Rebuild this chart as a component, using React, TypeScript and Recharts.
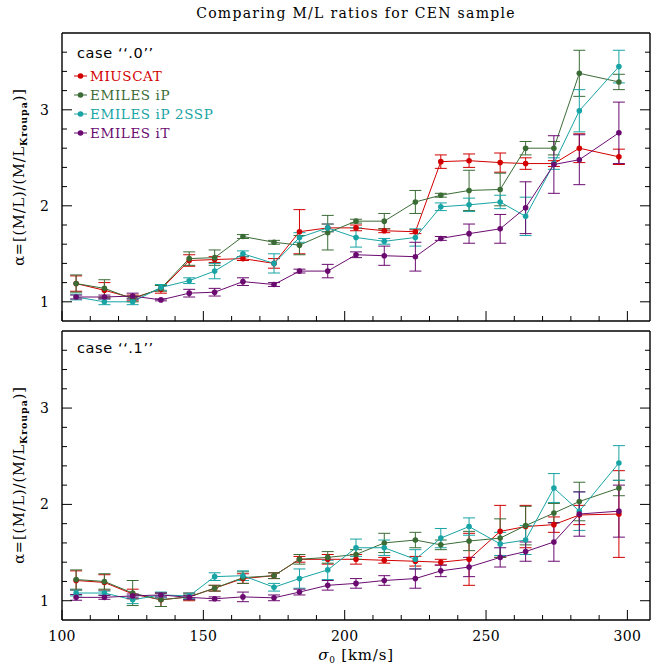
import React from 'react';
import { LineChart, Line, XAxis, YAxis, ErrorBar, Legend } from 'recharts';

// ---------- data ----------
const sigma = [105, 115, 125, 135, 145, 154, 164, 175, 184, 194, 204, 214, 225, 234, 244, 255, 264, 274, 283, 297];

const seriesNames = ['MIUSCAT', 'EMILES iP', 'EMILES iP 2SSP', 'EMILES iT'];
const seriesColors = ['#d20000', '#3b6c36', '#18a4a4', '#6b0b70'];

// case ".0"
const miuscat0 = [1.19, 1.12, 1.04, 1.13, 1.43, 1.44, 1.45, 1.40, 1.73, 1.77, 1.77, 1.74, 1.73, 2.46, 2.47, 2.45, 2.44, 2.44, 2.60, 2.51];
const iP0 = [1.19, 1.14, 1.03, 1.14, 1.45, 1.46, 1.68, 1.62, 1.59, 1.72, 1.84, 1.84, 2.04, 2.11, 2.16, 2.17, 2.60, 2.60, 3.38, 3.29];
const iP2ssp0 = [1.05, 1.00, 1.00, 1.15, 1.22, 1.32, 1.50, 1.40, 1.67, 1.77, 1.67, 1.63, 1.67, 1.99, 2.01, 2.04, 1.89, 2.44, 2.99, 3.45];
const iT0 = [1.05, 1.05, 1.06, 1.02, 1.09, 1.10, 1.21, 1.18, 1.32, 1.32, 1.49, 1.48, 1.47, 1.66, 1.71, 1.76, 1.98, 2.43, 2.48, 2.76];

const miuscatErr0 = [0.08, 0.08, 0.03, 0.04, 0.06, 0.03, 0.02, 0.05, 0.23, 0.04, 0.03, 0.02, 0.02, 0.07, 0.07, 0.10, 0.06, 0.03, 0.15, 0.08];
const iPErr0 = [0.09, 0.09, 0.03, 0.03, 0.07, 0.08, 0.02, 0.02, 0.10, 0.18, 0.02, 0.08, 0.12, 0.02, 0.21, 0.17, 0.07, 0.07, 0.24, 0.08];
const iP2sspErr0 = [0.03, 0.03, 0.03, 0.03, 0.03, 0.08, 0.03, 0.10, 0.05, 0.04, 0.10, 0.03, 0.09, 0.04, 0.07, 0.07, 0.20, 0.06, 0.22, 0.17];
const iTErr0 = [0.02, 0.02, 0.03, 0.01, 0.04, 0.04, 0.04, 0.02, 0.02, 0.07, 0.03, 0.10, 0.15, 0.02, 0.10, 0.15, 0.27, 0.30, 0.26, 0.32];

// case ".1"
const miuscat1 = [1.21, 1.19, 1.07, 1.01, 1.04, 1.13, 1.23, 1.26, 1.43, 1.43, 1.43, 1.42, 1.41, 1.40, 1.43, 1.72, 1.77, 1.79, 1.89, 1.90];
const iP1 = [1.22, 1.20, 1.08, 1.01, 1.04, 1.13, 1.24, 1.26, 1.43, 1.45, 1.48, 1.60, 1.63, 1.58, 1.62, 1.65, 1.78, 1.91, 2.03, 2.17];
const iP2ssp1 = [1.08, 1.08, 1.01, 1.06, 1.05, 1.25, 1.26, 1.14, 1.23, 1.32, 1.55, 1.55, 1.43, 1.65, 1.77, 1.59, 1.63, 2.17, 1.93, 2.43];
const iT1 = [1.035, 1.035, 1.05, 1.06, 1.035, 1.02, 1.04, 1.03, 1.09, 1.16, 1.18, 1.21, 1.23, 1.31, 1.35, 1.45, 1.51, 1.61, 1.90, 1.93];

const miuscatErr1 = [0.10, 0.08, 0.05, 0.07, 0.04, 0.03, 0.05, 0.03, 0.03, 0.05, 0.05, 0.03, 0.05, 0.03, 0.27, 0.27, 0.22, 0.08, 0.10, 0.45];
const iPErr1 = [0.10, 0.08, 0.13, 0.07, 0.03, 0.03, 0.06, 0.03, 0.05, 0.06, 0.05, 0.10, 0.08, 0.05, 0.10, 0.20, 0.20, 0.10, 0.20, 0.08];
const iP2sspErr1 = [0.03, 0.02, 0.04, 0.03, 0.03, 0.04, 0.05, 0.04, 0.10, 0.10, 0.09, 0.08, 0.10, 0.10, 0.09, 0.12, 0.15, 0.15, 0.20, 0.18];
const iTErr1 = [0.03, 0.02, 0.02, 0.02, 0.02, 0.02, 0.05, 0.03, 0.03, 0.05, 0.05, 0.05, 0.10, 0.06, 0.10, 0.10, 0.10, 0.20, 0.23, 0.27];

// axis ticks
const xDomain = [100, 308];
const yDomain = [0.8, 3.8];
const xTicks = [100, 110, 120, 130, 140, 150, 160, 170, 180, 190, 200, 210, 220, 230, 240, 250, 260, 270, 280, 290, 300];
const xLabelTicks = [100, 150, 200, 250, 300];
const yTicks = [1, 1.2, 1.4, 1.6, 1.8, 2, 2.2, 2.4, 2.6, 2.8, 3, 3.2, 3.4, 3.6];
const yLabelTicks = [1, 2, 3];

const title = 'Comparing M/L ratios for CEN sample';
const caseLabels = ['case \u2018\u2018.0\u2019\u2019', 'case \u2018\u2018.1\u2019\u2019'];

// ---------- helpers ----------
function buildRows(values: number[][], errs: number[][]) {
  return sigma.map((s, i) => {
    const row: Record<string, number> = { sigma: s };
    values.forEach((v, k) => {
      row['v' + k] = v[i];
      row['e' + k] = errs[k][i];
    });
    return row;
  });
}

const rows0 = buildRows([miuscat0, iP0, iP2ssp0, iT0], [miuscatErr0, iPErr0, iP2sspErr0, iTErr0]);
const rows1 = buildRows([miuscat1, iP1, iP2ssp1, iT1], [miuscatErr1, iPErr1, iP2sspErr1, iTErr1]);

const SERIF = '"DejaVu Serif", serif';
const SANS = '"DejaVu Sans", sans-serif';

const isMajorX = (v: number) => xLabelTicks.some((t) => Math.abs(t - v) < 1e-6);
const isMajorY = (v: number) => yLabelTicks.some((t) => Math.abs(t - v) < 1e-6);

const MAJ = 10;
const MIN = 5;

const makeBottomTick = (showLabel: boolean) => (props: any) => {
  const { x, y, payload } = props;
  const major = isMajorX(payload.value);
  return (
    <g>
      <line x1={x} x2={x} y1={y} y2={y - (major ? MAJ : MIN)} stroke="#000" strokeWidth={1} />
      {showLabel && major ? (
        <text x={x} y={y + 21} textAnchor="middle" fontFamily={SERIF} fontSize={14} letterSpacing={0.3} fill="#000">
          {payload.value}
        </text>
      ) : null}
    </g>
  );
};

const TopTick = (props: any) => {
  const { x, y, payload } = props;
  const major = isMajorX(payload.value);
  return <line x1={x} x2={x} y1={y} y2={y + (major ? MAJ : MIN)} stroke="#000" strokeWidth={1} />;
};

const LeftTick = (props: any) => {
  const { x, y, payload } = props;
  const major = isMajorY(payload.value);
  return (
    <g>
      <line x1={x} x2={x + (major ? MAJ : MIN)} y1={y} y2={y} stroke="#000" strokeWidth={1} />
      {major ? (
        <text x={x - 13} y={y} dy="0.36em" textAnchor="end" fontFamily={SERIF} fontSize={14} fill="#000">
          {payload.value}
        </text>
      ) : null}
    </g>
  );
};

const RightTick = (props: any) => {
  const { x, y, payload } = props;
  const major = isMajorY(payload.value);
  return <line x1={x} x2={x - (major ? MAJ : MIN)} y1={y} y2={y} stroke="#000" strokeWidth={1} />;
};

const LegendContent = () => (
  <svg width={200} height={84}>
    {seriesNames.map((name, i) => {
      const cy = 10 + i * 19;
      const color = seriesColors[i];
      return (
        <g key={name}>
          <line x1={4} x2={17} y1={cy} y2={cy} stroke={color} strokeWidth={1} />
          <circle cx={10.5} cy={cy} r={2.8} fill={color} />
          <text x={20} y={cy} dy="0.36em" fontFamily={SERIF} fontSize={13.5} letterSpacing={0.6} fill={color}>
            {name}
          </text>
        </g>
      );
    })}
  </svg>
);

const axisLine = { stroke: '#000', strokeWidth: 1.4 };

function Panel(props: { rows: any[]; height: number; bottomAxisHeight: number; marginTop: number; legend: boolean; xLabels: boolean }) {
  const { rows, height, bottomAxisHeight, marginTop, legend, xLabels } = props;
  return (
    <LineChart width={659} height={height} data={rows} margin={{ top: marginTop, right: 8, bottom: 0, left: 0 }}>
      <XAxis
        dataKey="sigma"
        type="number"
        domain={xDomain}
        ticks={xTicks}
        interval={0}
        allowDataOverflow
        height={bottomAxisHeight}
        tickLine={false}
        tickSize={0}
        tickMargin={0}
        axisLine={axisLine}
        tick={makeBottomTick(xLabels)}
      />
      <XAxis
        xAxisId="top"
        orientation="top"
        type="number"
        domain={xDomain}
        ticks={xTicks}
        interval={0}
        allowDataOverflow
        height={1}
        tickLine={false}
        tickSize={0}
        tickMargin={0}
        axisLine={axisLine}
        tick={TopTick}
      />
      <YAxis
        type="number"
        domain={yDomain}
        ticks={yTicks}
        interval={0}
        allowDataOverflow
        width={62}
        tickLine={false}
        tickSize={0}
        tickMargin={0}
        axisLine={axisLine}
        tick={LeftTick}
      />
      <YAxis
        yAxisId="right"
        orientation="right"
        type="number"
        domain={yDomain}
        ticks={yTicks}
        interval={0}
        allowDataOverflow
        width={1}
        tickLine={false}
        tickSize={0}
        tickMargin={0}
        axisLine={axisLine}
        tick={RightTick}
      />
      {seriesNames.map((name, k) => (
        <Line
          key={name}
          name={name}
          dataKey={'v' + k}
          stroke={seriesColors[k]}
          strokeWidth={1}
          dot={{ r: 2.8, fill: seriesColors[k], stroke: 'none' }}
          activeDot={false}
          isAnimationActive={false}
        >
          <ErrorBar
            dataKey={'e' + k}
            direction="y"
            width={6}
            stroke={seriesColors[k]}
            strokeWidth={1}
            isAnimationActive={false}
          />
        </Line>
      ))}
      {legend ? (
        <Legend
          layout="vertical"
          align="center"
          verticalAlign="middle"
          content={LegendContent}
          wrapperStyle={{ left: 70, top: 66, width: 200, height: 84 }}
        />
      ) : null}
    </LineChart>
  );
}

function YLabel({ cy }: { cy: number }) {
  const x = 24;
  return (
    <text
      transform={`rotate(-90, ${x}, ${cy})`}
      x={x}
      y={cy}
      textAnchor="middle"
      fontFamily={SERIF}
      fontSize={14.5}
      letterSpacing={0.9}
      fill="#000"
    >
      {'\u03b1=[(M/L)/(M/L'}
      <tspan dy={3} fontSize={9.5} fontWeight="bold">Kroupa</tspan>
      <tspan dy={-3}>{')]'}</tspan>
    </text>
  );
}

export default function App() {
  return (
    <div style={{ position: 'absolute', left: 0, top: 0, width: 659, height: 668, background: '#fff', overflow: 'hidden' }}>
      <div style={{ position: 'absolute', left: 0, top: 0 }}>
        <Panel rows={rows0} height={322} bottomAxisHeight={1} marginTop={32} legend xLabels={false} />
      </div>
      <div style={{ position: 'absolute', left: 0, top: 330 }}>
        <Panel rows={rows1} height={338} bottomAxisHeight={48} marginTop={0} legend={false} xLabels />
      </div>
      <svg width={659} height={668} style={{ position: 'absolute', left: 0, top: 0, pointerEvents: 'none' }}>
        <text x={356} y={18} textAnchor="middle" fontFamily={SERIF} fontSize={14} letterSpacing={1.3} fill="#000">
          {title}
        </text>
        <text x={77} y={58} fontFamily={SANS} fontSize={14.5} letterSpacing={0.6} fill="#000">
          {caseLabels[0]}
        </text>
        <text x={77} y={353} fontFamily={SANS} fontSize={14.5} letterSpacing={0.6} fill="#000">
          {caseLabels[1]}
        </text>
        <YLabel cy={177} />
        <YLabel cy={475} />
        <text x={356} y={660} textAnchor="middle" fontFamily={SERIF} fontSize={15} letterSpacing={0.8} fill="#000">
          <tspan fontStyle="italic">{'\u03c3'}</tspan>
          <tspan dy={3} fontSize={9}>0</tspan>
          <tspan dy={-3}>{' [km/s]'}</tspan>
        </text>
      </svg>
    </div>
  );
}
